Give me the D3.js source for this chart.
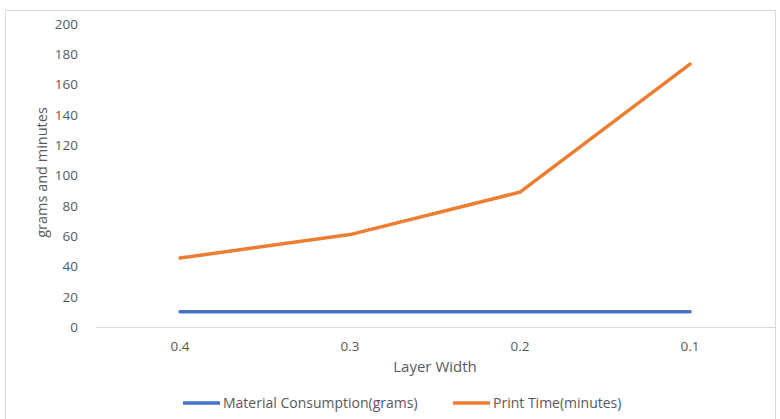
<!DOCTYPE html>
<html>
<head>
<meta charset="utf-8">
<script src="https://cdn.jsdelivr.net/npm/d3@7"></script>
<style>
  body { margin: 0; background: #fff; }
  svg text { font-family: "Open Sans", "Noto Sans", sans-serif; fill: #595959; }
</style>
</head>
<body>
<div id="chart"></div>
<script>
//// data
var layerWidths = ["0.4", "0.3", "0.2", "0.1"];
var materialGrams = [10, 10, 10, 10];
var printMinutes = [45.5, 61, 89, 173.5];
var yTicks = [0, 20, 40, 60, 80, 100, 120, 140, 160, 180, 200];
var seriesNames = ["Material Consumption(grams)", "Print Time(minutes)"];
var seriesColors = ["#4472c4", "#ed7d31"];

//// chart
var W = 780, H = 419;
var margin = {top: 24, right: 5, bottom: 92, left: 95},
    width = W - margin.left - margin.right,
    height = H - margin.top - margin.bottom;

var root = d3.select("#chart").append("svg")
    .attr("width", W)
    .attr("height", H);

// outer frame
root.append("rect")
  .attr("x", 5.5).attr("y", 10.5)
  .attr("width", 770).attr("height", 420)
  .attr("fill", "none")
  .attr("stroke", "#d9d9d9");

var svg = root.append("g")
  .attr("transform", "translate(" + margin.left + "," + margin.top + ")");

var x = d3.scaleBand()
  .domain(layerWidths)
  .range([0, width]);

var y = d3.scaleLinear()
  .domain([0, 200])
  .range([height, 0]);

// y axis labels
var yAxis = svg.append("g")
  .call(d3.axisLeft(y).tickValues(yTicks).tickSize(0).tickPadding(17));
yAxis.select(".domain").remove();
yAxis.selectAll("text")
  .style("font-size", "13.5px");

// x axis
var xAxis = svg.append("g")
  .attr("transform", "translate(0," + height + ")")
  .call(d3.axisBottom(x).tickSize(0).tickPadding(14));
xAxis.select(".domain").attr("stroke", "#d9d9d9");
xAxis.selectAll("text")
  .style("font-size", "13.5px");

// axis titles
svg.append("text")
  .attr("x", width / 2)
  .attr("y", height + 45)
  .attr("text-anchor", "middle")
  .style("font-size", "15px")
  .text("Layer Width");

svg.append("text")
  .attr("transform", "translate(" + (-48) + "," + (height / 2 - 3) + ") rotate(-90)")
  .attr("text-anchor", "middle")
  .style("font-size", "14.5px")
  .text("grams and minutes");

//// lines
var line = d3.line()
  .x(function(d, i) { return x(layerWidths[i]) + x.bandwidth() / 2; })
  .y(function(d) { return y(d); });

[materialGrams, printMinutes].forEach(function(s, k) {
  svg.append("path")
    .datum(s)
    .attr("fill", "none")
    .attr("stroke", seriesColors[k])
    .attr("stroke-width", 3.5)
    .attr("stroke-linecap", "round")
    .attr("stroke-linejoin", "round")
    .attr("d", line);
});

//// legend
var legendX = [183, 453];
var legend = root.append("g");
seriesNames.forEach(function(name, k) {
  legend.append("line")
    .attr("x1", legendX[k]).attr("x2", legendX[k] + 37)
    .attr("y1", 403).attr("y2", 403)
    .attr("stroke", seriesColors[k])
    .attr("stroke-width", 3.5);
  legend.append("text")
    .attr("x", legendX[k] + 40)
    .attr("y", 408)
    .style("font-size", "14px")
    .text(name);
});
</script>
</body>
</html>
